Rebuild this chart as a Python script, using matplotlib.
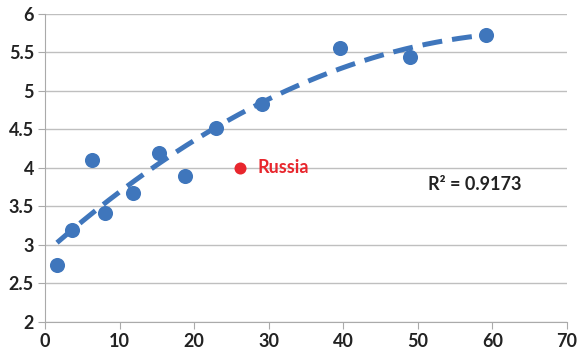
import numpy as np
import matplotlib.pyplot as plt

x_vals = [1.6, 3.6, 6.3, 8.1, 11.8, 15.3, 18.8, 22.9, 29.1, 39.5, 48.9, 59.2]
y_vals = [2.74, 3.19, 4.10, 3.42, 3.67, 4.20, 3.90, 4.52, 4.83, 5.56, 5.44, 5.72]
russia_x, russia_y = 26.1, 4.0
r2_label = "R² = 0.9173"

blue = '#3F76BC'
red = '#E8262D'
plt.rcParams['font.family'] = ['Lato', 'DejaVu Sans']

fig = plt.figure(figsize=(5.78, 3.55), dpi=100)
ax = fig.add_axes([0.078, 0.093, 0.903, 0.868])

# quadratic trend line
coef = np.polyfit(x_vals, y_vals, 2)
xs = np.linspace(min(x_vals), max(x_vals), 200)
ax.plot(xs, np.polyval(coef, xs), color=blue, lw=3.6, dashes=(4.0, 2.0), zorder=2)

ax.scatter(x_vals, y_vals, s=118, color=blue, zorder=3, linewidths=0)
ax.scatter([russia_x], [russia_y], s=75, color=red, zorder=3, linewidths=0)
ax.text(russia_x + 2.4, russia_y, "Russia", color=red, fontsize=13, fontweight='bold', va='center')
ax.text(51.4, 3.78, r2_label, color='#222222', fontsize=13, fontweight='bold', va='center')

ax.set_xlim(0, 70)
ax.set_ylim(2, 6)
ax.set_xticks(range(0, 71, 10))
ax.set_yticks([2, 2.5, 3, 3.5, 4, 4.5, 5, 5.5, 6])
ax.set_yticklabels(['2', '2.5', '3', '3.5', '4', '4.5', '5', '5.5', '6'])
ax.grid(axis='y', color='#BFBFBF', lw=1)
ax.set_axisbelow(True)
for s in ['top', 'right']:
    ax.spines[s].set_visible(False)
for s in ['left', 'bottom']:
    ax.spines[s].set_color('#AAAAAA')
ax.tick_params(colors='#AAAAAA', length=5, pad=3, labelcolor='#222222', labelsize=13)
for lab in ax.get_xticklabels() + ax.get_yticklabels():
    lab.set_fontweight('bold')

fig.savefig('out.png', dpi=100)
